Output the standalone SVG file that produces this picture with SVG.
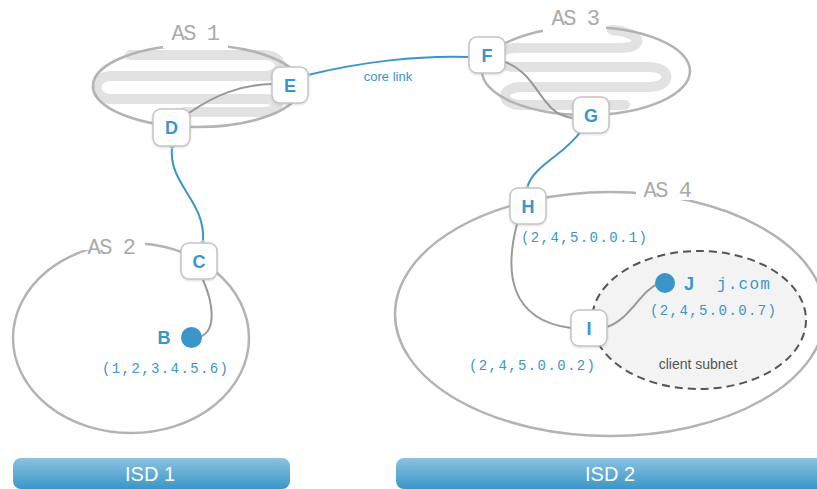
<svg xmlns="http://www.w3.org/2000/svg" width="817" height="489" viewBox="0 0 817 489">
<defs>
<style>
.as{fill:none;stroke:#b3b3b3;stroke-width:2.5}
.aslbl{font-family:"Liberation Mono",monospace;font-size:22px;letter-spacing:-1.5px;fill:#aaa}
.sq{fill:none;stroke:#e2e2e2;stroke-width:10;stroke-linecap:round;stroke-linejoin:round}
.gl{fill:none;stroke:#999;stroke-width:2}
.bl{fill:none;stroke:#3a96c8;stroke-width:2;marker-start:url(#dia);marker-end:url(#dia)}
.box{fill:#fff;stroke:#c4c4c4;stroke-width:1.5}
.nl{font-family:"Liberation Sans",Arial,sans-serif;font-weight:bold;font-size:18px;fill:#3a96c8;text-anchor:middle}
.addr{font-family:"Liberation Mono",monospace;font-size:14px;letter-spacing:1.4px;fill:#3a96c8}
.isd{font-family:"Liberation Sans",Arial,sans-serif;font-size:20px;fill:#fff;text-anchor:middle}
</style>
<marker id="dia" viewBox="-4 -4 8 8" markerWidth="7" markerHeight="7" refX="0" refY="0" markerUnits="userSpaceOnUse" orient="auto">
<path d="M-3,0 L0,-3 L3,0 L0,3 Z" fill="#9ccbe8"/>
</marker>
<linearGradient id="isdg" x1="0" y1="0" x2="0" y2="1">
<stop offset="0" stop-color="#8cc2e2"/>
<stop offset="1" stop-color="#3a96c8"/>
</linearGradient>
<filter id="sh" x="-20%" y="-20%" width="140%" height="150%">
<feDropShadow dx="0" dy="1" stdDeviation="1" flood-color="#000" flood-opacity="0.15"/>
</filter>
</defs>
<rect width="817" height="489" fill="#fff"/>

<g id="as1">
<path class="sq" d="M130,55 L265,55 C285,56 285,75 265,76 L110,76 C92,77 92,98 110,99 L265,99 C282,100 282,111 265,112 L185,112"/>
<ellipse class="as" cx="197" cy="86" rx="104" ry="41"/>
<rect x="163" y="28" width="65" height="20" fill="#fff"/>
<text class="aslbl" x="195" y="40" text-anchor="middle">AS 1</text>
</g>
<g id="as3">
<path class="sq" d="M612,30 C640,32 648,47 620,48 L515,48 C490,50 490,66 515,67 L650,67 C672,68 672,86 650,87 L520,87 C500,88 500,104 520,105 L625,105"/>
<ellipse class="as" cx="586" cy="71" rx="104" ry="44"/>
<rect x="543" y="12" width="63" height="20" fill="#fff"/>
<text class="aslbl" x="575" y="25" text-anchor="middle">AS 3</text>
</g>
<g id="as2">
<ellipse class="as" cx="131" cy="338" rx="118" ry="95"/>
<rect x="80" y="236" width="65" height="14" fill="#fff"/>
<text class="aslbl" x="111" y="254" text-anchor="middle">AS 2</text>
</g>
<g id="as4">
<ellipse class="as" cx="610" cy="314" rx="215" ry="122"/>
<rect x="636" y="182" width="64" height="18" fill="#fff"/>
<text class="aslbl" x="667" y="197" text-anchor="middle">AS 4</text>
</g>
<g id="subnet">
<ellipse cx="699" cy="320" rx="107" ry="69" fill="#f3f3f3" stroke="#555" stroke-width="2" stroke-dasharray="8,5"/>
<text x="698" y="369" font-family="'Liberation Sans',Arial,sans-serif" font-size="14" fill="#555" text-anchor="middle">client subnet</text>
</g>

<g id="connectors">
<path class="gl" d="M189,113 C215,95 240,85 272,84"/>
<path class="gl" d="M505,62 C540,75 540,115 573,118"/>
<path class="gl" d="M203,280 C212,300 218,330 200,337"/>
<path class="gl" d="M517,224 C505,270 508,320 571,328"/>
<path class="gl" d="M607,327 C632,318 640,290 660,283"/>
<path class="bl" d="M308,75 C360,62 420,55 470,57"/>
<path class="bl" d="M172,147 C168,185 206,200 203,242"/>
<path class="bl" d="M581,131 C565,155 533,165 527,188"/>
<text x="388" y="81" font-family="'Liberation Sans',Arial,sans-serif" font-size="13" fill="#3a96c8" text-anchor="middle">core link</text>
</g>

<g id="node-D"><rect class="box" filter="url(#sh)" x="153" y="109" width="37" height="37" rx="8"/><text class="nl" x="171.5" y="134">D</text></g>
<g id="node-E"><rect class="box" filter="url(#sh)" x="272" y="67" width="36" height="36" rx="8"/><text class="nl" x="290" y="91.5">E</text></g>
<g id="node-F"><rect class="box" filter="url(#sh)" x="469" y="37" width="36" height="36" rx="8"/><text class="nl" x="487" y="61.5">F</text></g>
<g id="node-G"><rect class="box" filter="url(#sh)" x="573" y="97" width="36" height="36" rx="8"/><text class="nl" x="591" y="121.5">G</text></g>
<g id="node-C"><rect class="box" filter="url(#sh)" x="181" y="243" width="36" height="36" rx="8"/><text class="nl" x="199" y="267.5">C</text></g>
<g id="node-H"><rect class="box" filter="url(#sh)" x="510" y="188" width="36" height="36" rx="8"/><text class="nl" x="528" y="212.5">H</text></g>
<g id="node-I"><rect class="box" filter="url(#sh)" x="571" y="310" width="36" height="36" rx="8"/><text class="nl" x="589" y="334.5">I</text></g>
<text class="addr" x="521" y="242">(2,4,5.0.0.1)</text>
<text class="addr" x="469" y="370">(2,4,5.0.0.2)</text>

<g id="node-B">
<circle cx="191.5" cy="337.5" r="10.5" fill="#3a96c8"/>
<text class="nl" x="164" y="344">B</text>
<text class="addr" x="102" y="373">(1,2,3.4.5.6)</text>
</g>
<g id="node-J">
<circle cx="665" cy="283" r="10" fill="#3a96c8"/>
<text class="nl" x="689" y="289.5">J</text>
<text x="717" y="289" font-family="'Liberation Mono',monospace" font-size="16" letter-spacing="1.2" fill="#3a96c8">j.com</text>
<text class="addr" x="650" y="315">(2,4,5.0.0.7)</text>
</g>

<g id="isd1"><rect x="13" y="458" width="277" height="31" rx="8" fill="url(#isdg)"/><text class="isd" x="150" y="481">ISD 1</text></g>
<g id="isd2"><rect x="396" y="458" width="440" height="31" rx="8" fill="url(#isdg)"/><text class="isd" x="610" y="481">ISD 2</text></g>
</svg>
